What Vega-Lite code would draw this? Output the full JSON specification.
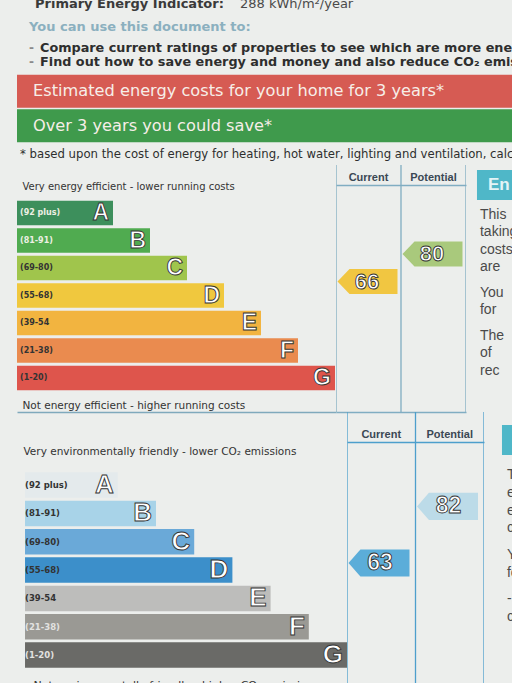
{
  "$schema": "https://vega.github.io/schema/vega-lite/v6.json",
  "background": "#eceeec",
  "padding": {"left": 17, "top": 0, "right": 0, "bottom": 0},
  "spacing": 0,
  "config": {"view": {"stroke": null}, "font": "DejaVu Sans", "text": {"font": "DejaVu Sans"}},
  "resolve": {"scale": {"color": "independent"}},
  "datasets": {
    "bands": [
      {"band": "A", "k": 1, "range": "(92 plus)"},
      {"band": "B", "k": 2, "range": "(81-91)"},
      {"band": "C", "k": 3, "range": "(69-80)"},
      {"band": "D", "k": 4, "range": "(55-68)"},
      {"band": "E", "k": 5, "range": "(39-54"},
      {"band": "F", "k": 6, "range": "(21-38)"},
      {"band": "G", "k": 7, "range": "(1-20)"}
    ],
    "energyRatings": [
      {"type": "Current", "value": 66, "band": "D"},
      {"type": "Potential", "value": 80, "band": "C"}
    ],
    "envRatings": [
      {"type": "Current", "value": 63, "band": "D"},
      {"type": "Potential", "value": 82, "band": "B"}
    ],
    "energySide": [
      {"part": "side", "line": 0, "text": "This"},
      {"part": "side", "line": 2, "text": "taking"},
      {"part": "side", "line": 4, "text": "costs"},
      {"part": "side", "line": 6, "text": "are"},
      {"part": "side", "line": 9, "text": "You"},
      {"part": "side", "line": 11, "text": "for"},
      {"part": "side", "line": 14, "text": "The"},
      {"part": "side", "line": 16, "text": "of"},
      {"part": "side", "line": 18, "text": "rec"}
    ],
    "envSide": [
      {"part": "side", "line": 0, "text": "The"},
      {"part": "side", "line": 2, "text": "effect"},
      {"part": "side", "line": 4, "text": "emissions"},
      {"part": "side", "line": 6, "text": "carbon"},
      {"part": "side", "line": 9, "text": "You"},
      {"part": "side", "line": 11, "text": "for"},
      {"part": "side", "line": 14, "text": "-"},
      {"part": "side", "line": 16, "text": "c"}
    ]
  },
  "vconcat": [
    {
      "width": 495, "height": 16,
      "data": {"values": [{"part": "pei", "label": "Primary Energy Indicator:", "value": "288 kWh/m²/year"}]},
      "encoding": {"x": {"field": "part", "type": "nominal", "axis": null, "bandPosition": 0, "scale": {"type": "band", "padding": 0}}},
      "layer": [
        {"mark": {"type": "text", "align": "left", "baseline": "alphabetic", "dx": 18, "fontSize": 13, "fontWeight": "bold", "color": "#3a3a3a", "clip": true},
         "encoding": {"text": {"field": "label"}}},
        {"mark": {"type": "text", "align": "left", "baseline": "alphabetic", "dx": 223, "fontSize": 13, "color": "#4a4a4a", "clip": true},
         "encoding": {"text": {"field": "value"}}}
      ]
    },
    {
      "width": 495, "height": 22,
      "data": {"values": [{"part": "use", "text": "You can use this document to:"}]},
      "mark": {"type": "text", "align": "left", "baseline": "middle", "dx": 12, "fontSize": 13, "fontWeight": "bold", "color": "#8bb0bf", "clip": true},
      "encoding": {"x": {"field": "part", "type": "nominal", "axis": null, "bandPosition": 0, "scale": {"type": "band", "padding": 0}}, "text": {"field": "text"}}
    },
    {
      "width": 495, "height": 36,
      "data": {"values": [
        {"part": "bullets", "line": "1", "text": "Compare current ratings of properties to see which are more energy efficient"},
        {"part": "bullets", "line": "2", "text": "Find out how to save energy and money and also reduce CO₂ emissions"}
      ]},
      "encoding": {
        "x": {"field": "part", "type": "nominal", "axis": null, "bandPosition": 0, "scale": {"type": "band", "padding": 0}},
        "y": {"field": "line", "type": "nominal", "axis": null, "scale": {"type": "band", "paddingInner": 0, "paddingOuter": 0.2857, "align": 0.375}}
      },
      "layer": [
        {"mark": {"type": "text", "align": "left", "baseline": "middle", "dx": 12, "fontSize": 12, "fontWeight": "bold", "color": "#8a8a8a", "text": "-"}},
        {"mark": {"type": "text", "align": "left", "baseline": "middle", "dx": 23, "fontSize": 12.8, "fontWeight": "bold", "color": "#2e2e2e", "clip": true},
         "encoding": {"text": {"field": "text"}}}
      ]
    },
    {
      "width": 495, "height": 69,
      "data": {"values": [
        {"part": "banner", "row": "cost", "text": "Estimated energy costs for your home for 3 years*"},
        {"part": "banner", "row": "save", "text": "Over 3 years you could save*"}
      ]},
      "encoding": {
        "x": {"field": "part", "type": "nominal", "axis": null, "scale": {"type": "band", "padding": 0}},
        "y": {"field": "row", "type": "nominal", "axis": null, "scale": {"type": "band", "domain": ["cost", "save"], "paddingInner": 0.04, "paddingOuter": 0.02, "align": 0.5}}
      },
      "layer": [
        {"mark": {"type": "rect"},
         "encoding": {
           "color": {"field": "row", "type": "nominal", "scale": {"domain": ["cost", "save"], "range": ["#d65b53", "#3f9a4c"]}, "legend": null}
         }},
        {"mark": {"type": "text", "align": "left", "baseline": "middle", "dx": 16, "fontSize": 16.2, "color": "#f6eee8", "clip": true},
         "encoding": {
           "x": {"field": "part", "type": "nominal", "axis": null, "bandPosition": 0},
           "text": {"field": "text"}
         }}
      ]
    },
    {
      "width": 495, "height": 22,
      "data": {"values": [{"part": "note", "text": "* based upon the cost of energy for heating, hot water, lighting and ventilation, calculated using standard assumptions"}]},
      "mark": {"type": "text", "align": "left", "baseline": "middle", "dx": 3, "fontSize": 11.7, "color": "#2e2e2e", "clip": true},
      "encoding": {"x": {"field": "part", "type": "nominal", "axis": null, "bandPosition": 0, "scale": {"type": "band", "padding": 0}}, "text": {"field": "text"}}
    },
    {
      "hconcat": [
        {
          "width": 319, "height": 247,
          "data": {"name": "bands"},
          "encoding": {
            "y": {"field": "band", "type": "nominal", "axis": null, "scale": {"type": "band", "domain": ["A", "B", "C", "D", "E", "F", "G"], "range": [35.8, 225.3], "paddingInner": 0.11, "paddingOuter": 0}}
          },
          "layer": [
            {"mark": {"type": "bar"},
             "encoding": {
               "x": {"field": "k", "type": "quantitative", "scale": {"domain": [-1.5946, 7.027], "nice": false, "zero": false},
                     "axis": {"orient": "top", "title": "Very energy efficient - lower running costs", "titleX": 5, "titleY": 21, "titleAnchor": "start", "titleAlign": "left", "titleBaseline": "middle", "titleFont": "DejaVu Sans", "titleFontSize": 10, "titleFontWeight": "normal", "titleColor": "#333333", "labels": false, "ticks": false, "domain": false, "grid": false}},
               "x2": {"datum": -1.5946},
               "color": {"field": "band", "type": "nominal", "scale": {"domain": ["A", "B", "C", "D", "E", "F", "G"], "range": ["#3d8f5c", "#50ab50", "#a0c54c", "#f0c83e", "#f2b440", "#ea8b4f", "#de554c"]}, "legend": null}
             }},
            {"mark": {"type": "text", "align": "right", "baseline": "middle", "dx": -4, "font": "Liberation Sans", "fontSize": 23, "fontWeight": "bold", "fill": "#ffffff", "stroke": "#333333", "strokeWidth": 0.9},
             "encoding": {
               "x": {"field": "k", "type": "quantitative",
                     "axis": {"orient": "bottom", "title": "Not energy efficient - higher running costs", "titleX": 5, "titleY": -7, "titleAnchor": "start", "titleAlign": "left", "titleBaseline": "middle", "titleFont": "DejaVu Sans", "titleFontSize": 10.5, "titleFontWeight": "normal", "titleColor": "#333333", "labels": false, "ticks": false, "domain": true, "domainColor": "#7fa9bc", "domainWidth": 1.3, "grid": false}},
               "text": {"field": "band"}
             }},
            {"mark": {"type": "text", "align": "left", "baseline": "middle", "dx": 3, "fontSize": 8, "fontWeight": "bold"},
             "encoding": {
               "x": {"datum": -1.5946, "type": "quantitative", "axis": null},
               "text": {"field": "range"},
               "color": {"condition": {"test": "datum.band === 'A' || datum.band === 'B'", "value": "#eef0e4"}, "value": "#333333"}
             }}
          ],
          "resolve": {"axis": {"x": "independent"}}
        },
        {
          "width": 130, "height": 247,
          "data": {"name": "energyRatings"},
          "layer": [
            {"mark": {"type": "rule", "color": "#80adc2", "strokeWidth": 1.3, "clip": true},
             "encoding": {"x": {"field": "type", "type": "nominal", "bandPosition": 0, "axis": null}}},
            {"mark": {"type": "rule", "color": "#80adc2", "strokeWidth": 1.3, "clip": true},
             "transform": [{"filter": "datum.type === 'Potential'"}],
             "encoding": {"x": {"field": "type", "type": "nominal", "bandPosition": 1, "axis": null}}},
            {"mark": {"type": "point", "shape": "M0.05,0L0.45,-0.417L2.05,-0.417L2.05,0.417L0.45,0.417Z", "size": 3600, "filled": true, "opacity": 1, "strokeWidth": 0},
             "encoding": {
               "x": {"field": "type", "type": "nominal", "bandPosition": 0, "scale": {"type": "band", "domain": ["Current", "Potential"], "padding": 0},
                     "axis": {"orient": "top", "offset": -20, "title": null, "labelAngle": 0, "labelFont": "Liberation Sans", "labelFontSize": 11, "labelFontWeight": "bold", "labelColor": "#3b4854", "labelPadding": 3, "ticks": false, "domain": true, "domainColor": "#80adc2", "domainWidth": 1.3, "grid": false}},
               "y": {"field": "band", "type": "nominal", "axis": null, "scale": {"type": "band", "domain": ["A", "B", "C", "D", "E", "F", "G"], "range": [21.8, 211.3], "paddingInner": 0.11, "paddingOuter": 0}},
               "color": {"field": "band", "type": "nominal", "scale": {"domain": ["C", "D"], "range": ["#a9c97c", "#f1c641"]}, "legend": null}
             }},
            {"mark": {"type": "text", "align": "center", "baseline": "middle", "dx": 31, "font": "Liberation Sans", "fontSize": 22, "fontWeight": "bold", "fill": "#ffffff", "stroke": "#333333", "strokeWidth": 0.9},
             "encoding": {
               "x": {"field": "type", "type": "nominal", "bandPosition": 0,
                     "axis": {"orient": "bottom", "title": null, "labels": false, "ticks": false, "domain": true, "domainColor": "#80adc2", "domainWidth": 1.3, "grid": false}},
               "y": {"field": "band", "type": "nominal", "axis": null},
               "text": {"field": "value"}
             }}
          ],
          "resolve": {"axis": {"x": "independent"}}
        },
        {
          "width": 60, "height": 247,
          "layer": [
            {
              "data": {"values": [{"part": "side", "box": "head", "text": "En"}]},
              "encoding": {
                "y": {"field": "box", "type": "nominal", "axis": null, "scale": {"type": "band", "range": [5, 35], "padding": 0}}
              },
              "layer": [
                {"mark": {"type": "rect", "color": "#4fb7c8"},
                 "encoding": {"x": {"field": "part", "type": "nominal", "axis": null, "scale": {"type": "band", "paddingInner": 0, "paddingOuter": 0.112, "align": 1}}}},
                {"mark": {"type": "text", "align": "left", "baseline": "middle", "dx": 11, "font": "Liberation Sans", "fontSize": 17, "fontWeight": "bold", "color": "#e4f4f6", "clip": true},
                 "encoding": {"x": {"field": "part", "type": "nominal", "axis": null, "bandPosition": 0}, "text": {"field": "text"}}}
              ]
            },
            {
              "data": {"name": "energySide"},
              "mark": {"type": "text", "align": "left", "baseline": "middle", "dx": 3, "font": "Liberation Sans", "fontSize": 14, "color": "#4a4a4a", "clip": true},
              "encoding": {
                "x": {"field": "part", "type": "nominal", "axis": null, "bandPosition": 0},
                "y": {"field": "line", "type": "ordinal", "axis": null, "scale": {"type": "point", "domain": [0,1,2,3,4,5,6,7,8,9,10,11,12,13,14,15,16,17,18], "range": [50, 205.7], "padding": 0}},
                "text": {"field": "text"}
              }
            }
          ],
          "resolve": {"scale": {"y": "independent"}}
        }
      ],
      "spacing": 0,
      "bounds": "flush",
      "resolve": {"scale": {"color": "independent"}}
    },
    {
      "hconcat": [
        {
          "width": 330, "height": 293,
          "data": {"name": "bands"},
          "encoding": {
            "y": {"field": "band", "type": "nominal", "axis": null, "scale": {"type": "band", "domain": ["A", "B", "C", "D", "E", "F", "G"], "range": [60.3, 255.8], "paddingInner": 0.1, "paddingOuter": 0}}
          },
          "layer": [
            {"mark": {"type": "bar"},
             "encoding": {
               "x": {"field": "k", "type": "quantitative", "scale": {"domain": [-1.639, 7.0], "nice": false, "zero": false},
                     "axis": {"orient": "top", "title": "Very environmentally friendly - lower CO₂ emissions", "titleX": 6, "titleY": 39, "titleAnchor": "start", "titleAlign": "left", "titleBaseline": "middle", "titleFont": "DejaVu Sans", "titleFontSize": 10.5, "titleFontWeight": "normal", "titleColor": "#333333", "labels": false, "ticks": false, "domain": false, "grid": false}},
               "x2": {"datum": -1.429},
               "color": {"field": "band", "type": "nominal", "scale": {"domain": ["A", "B", "C", "D", "E", "F", "G"], "range": ["#e4eaec", "#a8d3e8", "#6aa9d8", "#3c8fca", "#bdbdbb", "#9a9994", "#6a6a67"]}, "legend": null}
             }},
            {"mark": {"type": "text", "align": "right", "baseline": "middle", "dx": -4, "font": "Liberation Sans", "fontSize": 26, "fontWeight": "bold", "fill": "#ffffff", "stroke": "#333333", "strokeWidth": 0.9},
             "encoding": {
               "x": {"field": "k", "type": "quantitative",
                     "axis": {"orient": "bottom", "title": "Not environmentally friendly - higher CO₂ emissions", "titleX": 16, "titleY": -20, "titleAnchor": "start", "titleAlign": "left", "titleBaseline": "middle", "titleFont": "DejaVu Sans", "titleFontSize": 11, "titleFontWeight": "normal", "titleColor": "#333333", "labels": false, "ticks": false, "domain": true, "domainColor": "#4d9fcc", "domainWidth": 1.3, "grid": false}},
               "text": {"field": "band"}
             }},
            {"mark": {"type": "text", "align": "left", "baseline": "middle", "dx": 0, "fontSize": 8.5, "fontWeight": "bold"},
             "encoding": {
               "x": {"datum": -1.429, "type": "quantitative", "axis": null},
               "text": {"field": "range"},
               "color": {"condition": {"test": "datum.band === 'F' || datum.band === 'G'", "value": "#e2e2e0"}, "value": "#333333"}
             }}
          ],
          "resolve": {"axis": {"x": "independent"}}
        },
        {
          "width": 137, "height": 293,
          "data": {"name": "envRatings"},
          "layer": [
            {"mark": {"type": "rule", "color": "#4d9fcc", "strokeWidth": 1.3, "clip": true},
             "encoding": {"x": {"field": "type", "type": "nominal", "bandPosition": 0, "axis": null}}},
            {"mark": {"type": "rule", "color": "#4d9fcc", "strokeWidth": 1.3, "clip": true},
             "transform": [{"filter": "datum.type === 'Potential'"}],
             "encoding": {"x": {"field": "type", "type": "nominal", "bandPosition": 1, "axis": null}}},
            {"mark": {"type": "point", "shape": "M0.05,0L0.44,-0.443L2.05,-0.443L2.05,0.443L0.44,0.443Z", "size": 3721, "filled": true, "opacity": 1, "strokeWidth": 0},
             "encoding": {
               "x": {"field": "type", "type": "nominal", "bandPosition": 0, "scale": {"type": "band", "domain": ["Current", "Potential"], "padding": 0},
                     "axis": {"orient": "top", "offset": -30, "title": null, "labelAngle": 0, "labelFont": "Liberation Sans", "labelFontSize": 11, "labelFontWeight": "bold", "labelColor": "#3b4854", "labelPadding": 3, "ticks": false, "domain": true, "domainColor": "#4d9fcc", "domainWidth": 1.3, "grid": false}},
               "y": {"field": "band", "type": "nominal", "axis": null, "scale": {"type": "band", "domain": ["A", "B", "C", "D", "E", "F", "G"], "range": [53.3, 248.8], "paddingInner": 0.1, "paddingOuter": 0}},
               "color": {"field": "band", "type": "nominal", "scale": {"domain": ["B", "D"], "range": ["#bcdbe8", "#5badd9"]}, "legend": null}
             }},
            {"mark": {"type": "text", "align": "center", "baseline": "middle", "dx": 33, "font": "Liberation Sans", "fontSize": 23, "fontWeight": "bold", "fill": "#ffffff", "stroke": "#333333", "strokeWidth": 0.9},
             "encoding": {
               "x": {"field": "type", "type": "nominal", "bandPosition": 0,
                     "axis": {"orient": "bottom", "title": null, "labels": false, "ticks": false, "domain": true, "domainColor": "#4d9fcc", "domainWidth": 1.3, "grid": false}},
               "y": {"field": "band", "type": "nominal", "axis": null},
               "text": {"field": "value"}
             }}
          ],
          "resolve": {"axis": {"x": "independent"}}
        },
        {
          "width": 60, "height": 293,
          "layer": [
            {
              "data": {"values": [{"part": "side", "box": "head"}]},
              "mark": {"type": "rect", "color": "#4fb7c8"},
              "encoding": {
                "x": {"field": "part", "type": "nominal", "axis": null, "scale": {"type": "band", "paddingInner": 0, "paddingOuter": 0.214, "align": 1}},
                "y": {"field": "box", "type": "nominal", "axis": null, "scale": {"type": "band", "range": [13, 43], "padding": 0}}
              }
            },
            {
              "data": {"name": "envSide"},
              "mark": {"type": "text", "align": "left", "baseline": "middle", "dx": 5, "font": "Liberation Sans", "fontSize": 14, "color": "#4a4a4a", "clip": true},
              "encoding": {
                "x": {"field": "part", "type": "nominal", "axis": null, "bandPosition": 0},
                "y": {"field": "line", "type": "ordinal", "axis": null, "scale": {"type": "point", "domain": [0,1,2,3,4,5,6,7,8,9,10,11,12,13,14,15,16,17,18], "range": [63, 222.8], "padding": 0}},
                "text": {"field": "text"}
              }
            }
          ],
          "resolve": {"scale": {"y": "independent"}}
        }
      ],
      "spacing": 0,
      "bounds": "flush",
      "resolve": {"scale": {"color": "independent"}}
    }
  ]
}
